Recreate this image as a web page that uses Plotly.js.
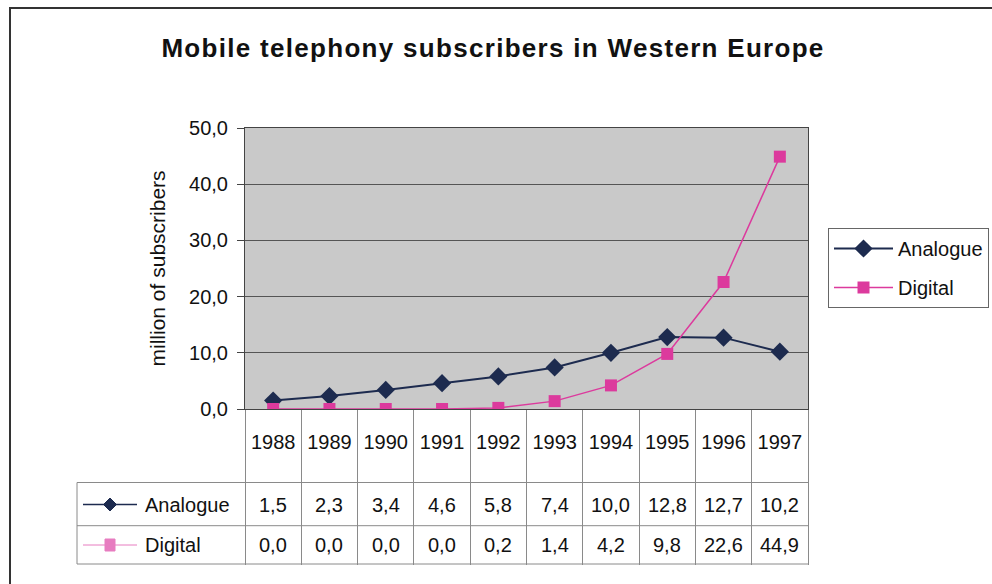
<!DOCTYPE html>
<html>
<head>
<meta charset="utf-8">
<script src="https://cdn.plot.ly/plotly-3.0.1.min.js"></script>
<style>
  html, body { margin: 0; padding: 0; background: #ffffff; overflow: hidden; }
  #chart { width: 992px; height: 584px; }
  .gtitle { letter-spacing: 1.3px; }
</style>
</head>
<body>
<div id="chart"></div>
<script>
// ---- data ----
const years = ['1988','1989','1990','1991','1992','1993','1994','1995','1996','1997'];
const analogue = [1.5, 2.3, 3.4, 4.6, 5.8, 7.4, 10.0, 12.8, 12.7, 10.2];
const digital  = [0.0, 0.0, 0.0, 0.0, 0.2, 1.4, 4.2, 9.8, 22.6, 44.9];
const seriesNames = ['Analogue', 'Digital'];
const yTicks = [0, 10, 20, 30, 40, 50];
const yTitle = 'million of subscribers';

// ---- geometry (pixels) ----
const W = 992, H = 584;
const PL = 245, PR = 808, PT = 128, PB = 409;
const fx = p => (p - PL) / (PR - PL);
const fy = p => (PB - p) / (PB - PT);

const navy = '#1d2b4f';
const pink = '#dc3a9d';
const pinkLight = '#e77cc0';
const gridGray = '#8a8a8a';
const fontFam = 'Liberation Sans, Arial, sans-serif';
const fmt = v => v.toFixed(1).replace('.', ',');

const traces = [
  {
    x: years, y: analogue, name: seriesNames[0], type: 'scatter', mode: 'lines+markers',
    legendgroup: 'a', xaxis: 'x', yaxis: 'y',
    line: { color: navy, width: 2 },
    marker: { symbol: 'diamond', size: 14, color: navy }
  },
  {
    x: years, y: digital, name: seriesNames[1], type: 'scatter', mode: 'lines+markers',
    legendgroup: 'd', xaxis: 'x', yaxis: 'y',
    line: { color: pink, width: 1.5 },
    marker: { symbol: 'square', size: 12, color: pink }
  }
];

// table rows / header positions
const rowA = 504.5, rowD = 545;
const tableLeft = 77;
const hLines = [482.5, 525.7, 564];

const shapes = [];
// outer frame
shapes.push({ type: 'rect', xref: 'paper', yref: 'paper', x0: fx(10), x1: fx(1100), y0: fy(8), y1: fy(650),
  line: { color: '#333', width: 2 }, layer: 'below' });
// table horizontal lines
hLines.forEach(yy => shapes.push({ type: 'line', xref: 'paper', yref: 'paper',
  x0: fx(tableLeft), x1: 1, y0: fy(yy), y1: fy(yy), line: { color: gridGray, width: 1 } }));
// table left edge
shapes.push({ type: 'line', xref: 'paper', yref: 'paper', x0: fx(tableLeft), x1: fx(tableLeft),
  y0: fy(hLines[0]), y1: fy(hLines[2]), line: { color: gridGray, width: 1 } });
// legend keys inside table
shapes.push({ type: 'line', xref: 'paper', yref: 'paper', x0: fx(83), x1: fx(137), y0: fy(rowA), y1: fy(rowA),
  line: { color: navy, width: 1.5 } });
shapes.push({ type: 'path', xref: 'paper', yref: 'paper', xsizemode: 'pixel', ysizemode: 'pixel',
  xanchor: fx(110), yanchor: fy(rowA), path: 'M0,6.5L6.5,0L0,-6.5L-6.5,0Z', fillcolor: navy, line: { color: navy, width: 1 } });
shapes.push({ type: 'line', xref: 'paper', yref: 'paper', x0: fx(83), x1: fx(137), y0: fy(rowD), y1: fy(rowD),
  line: { color: pinkLight, width: 1 } });
shapes.push({ type: 'path', xref: 'paper', yref: 'paper', xsizemode: 'pixel', ysizemode: 'pixel',
  xanchor: fx(110), yanchor: fy(rowD), path: 'M-5,-6L5,-6L5,6L-5,6Z', fillcolor: pinkLight, line: { color: pinkLight, width: 1 } });

const annotations = [];
[ [seriesNames[0], rowA], [seriesNames[1], rowD] ].forEach(([t, r]) => annotations.push({
  xref: 'paper', yref: 'paper', x: fx(143), y: fy(r), xanchor: 'left', yanchor: 'middle',
  text: t, showarrow: false, font: { size: 20, color: '#111', family: fontFam }
}));
years.forEach((yr, i) => {
  // x given as category index on the category axis
  annotations.push({ xref: 'x', yref: 'paper', x: i, y: fy(rowA), xanchor: 'center', yanchor: 'middle',
    text: fmt(analogue[i]), showarrow: false, font: { size: 20, color: '#111', family: fontFam } });
  annotations.push({ xref: 'x', yref: 'paper', x: i, y: fy(rowD), xanchor: 'center', yanchor: 'middle',
    text: fmt(digital[i]), showarrow: false, font: { size: 20, color: '#111', family: fontFam } });
});
// y-axis title
annotations.push({ xref: 'paper', yref: 'paper', x: fx(157), y: 0.5, xanchor: 'center', yanchor: 'middle',
  textangle: -90, text: yTitle, showarrow: false, font: { size: 21, color: '#111', family: fontFam } });

const layout = {
  width: W, height: H,
  margin: { l: PL, r: W - PR, t: PT, b: H - PB, autoexpand: false },
  paper_bgcolor: '#ffffff',
  plot_bgcolor: '#c9c9c9',
  separators: ', ',
  font: { family: fontFam, size: 20, color: '#111' },
  title: {
    text: '<b>Mobile telephony subscribers in Western Europe</b>',
    font: { size: 26, color: '#111', family: fontFam },
    x: 0.497, xref: 'container', xanchor: 'center',
    y: 1 - 48 / H, yref: 'container', yanchor: 'middle'
  },
  xaxis: {
    type: 'category', categoryorder: 'array', categoryarray: years,
    range: [-0.5, years.length - 0.5],
    tickson: 'boundaries', ticks: 'outside', ticklen: 155, tickcolor: gridGray, tickwidth: 1,
    showticklabels: false, showgrid: false, zeroline: false,
    showline: true, mirror: true, linecolor: '#444', linewidth: 1,
    fixedrange: true
  },
  xaxis2: {
    type: 'category', categoryorder: 'array', categoryarray: years,
    overlaying: 'x', anchor: 'y', side: 'bottom',
    range: [-0.5, years.length - 0.5],
    ticks: 'outside', ticklen: 15, tickcolor: 'rgba(0,0,0,0)',
    showticklabels: true, tickfont: { size: 20, color: '#111', family: fontFam },
    showgrid: false, zeroline: false, showline: false, fixedrange: true
  },
  yaxis: {
    range: [0, 50], tickvals: yTicks, tickformat: '.1f',
    ticks: 'outside', ticklen: 7, tickcolor: '#444', ticklabelstandoff: 5,
    tickfont: { size: 20, color: '#111', family: fontFam },
    showgrid: true, gridcolor: '#555', gridwidth: 1,
    zeroline: false, showline: true, mirror: true, linecolor: '#444', linewidth: 1,
    fixedrange: true
  },
  showlegend: true,
  legend: {
    x: fx(828), y: fy(228), xanchor: 'left', yanchor: 'top',
    bgcolor: '#ffffff', bordercolor: '#666', borderwidth: 1,
    font: { size: 20, color: '#111', family: fontFam },
    traceorder: 'grouped', tracegroupgap: 10, itemwidth: 59
  },
  shapes: shapes,
  annotations: annotations
};

// dummy trace so xaxis2 is realised
traces.push({ x: years, y: years.map(() => null), xaxis: 'x2', yaxis: 'y', type: 'scatter',
  mode: 'lines', showlegend: false, hoverinfo: 'skip' });

Plotly.newPlot('chart', traces, layout, { displayModeBar: false, staticPlot: true });
</script>
</body>
</html>
